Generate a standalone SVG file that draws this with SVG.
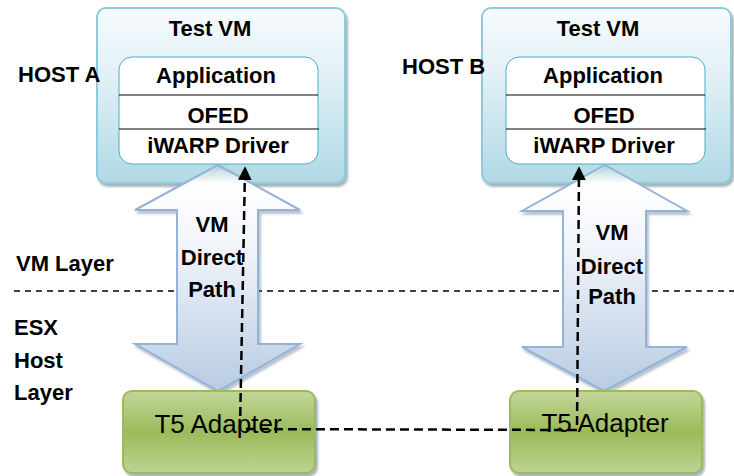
<svg xmlns="http://www.w3.org/2000/svg" width="734" height="476" viewBox="0 0 734 476">
<defs>
  <style>
    .lbl{font-family:"Liberation Sans",Arial,sans-serif;font-weight:bold;font-size:22px;fill:#000}
    .mid{text-anchor:middle}
    .ad{font-family:"Liberation Sans",Arial,sans-serif;font-size:26px;fill:#000;text-anchor:middle}
    .vmbox{fill:url(#vmGrad);stroke:#8ccbdc;stroke-width:2;filter:url(#sh)}
    .inner{fill:#fff;stroke:#4bacc6;stroke-width:1}
    .sep{stroke:#000;stroke-width:1}
    .barrow{stroke:#95b3d7;stroke-width:2;filter:url(#sh2)}
    .adapter{fill:url(#grnGrad);stroke:#9bbb59;stroke-width:2;filter:url(#sh)}
    .layer{fill:none;stroke:#000;stroke-width:1.5;stroke-dasharray:6 5}
    .path{fill:none;stroke:#000;stroke-width:2.5;stroke-dasharray:9 5}
  </style>
  <linearGradient id="vmGrad" x1="0" y1="0" x2="0" y2="1">
    <stop offset="0" stop-color="#f6fbfd"/>
    <stop offset="0.4" stop-color="#e0f0f6"/>
    <stop offset="1" stop-color="#b0d9e5"/>
  </linearGradient>
  <linearGradient id="arrGradA" gradientUnits="userSpaceOnUse" x1="0" y1="165" x2="0" y2="392">
    <stop offset="0" stop-color="#ffffff" stop-opacity="0"/>
    <stop offset="0.08" stop-color="#ffffff" stop-opacity="1"/>
    <stop offset="0.35" stop-color="#f2f5fa"/>
    <stop offset="1" stop-color="#b7cbe3"/>
  </linearGradient>
  <linearGradient id="grnGrad" x1="0" y1="0" x2="0" y2="1">
    <stop offset="0" stop-color="#c2d69a"/>
    <stop offset="0.5" stop-color="#9bbb59"/>
    <stop offset="1" stop-color="#bdd394"/>
  </linearGradient>
  <filter id="sh" x="-10%" y="-10%" width="125%" height="125%">
    <feDropShadow dx="2" dy="3" stdDeviation="1" flood-color="#3a5a66" flood-opacity="0.45"/>
  </filter>
  <filter id="sh2" x="-10%" y="-10%" width="125%" height="125%">
    <feDropShadow dx="2" dy="3" stdDeviation="1" flood-color="#4f6a8a" flood-opacity="0.4"/>
  </filter>
  <marker id="ah" viewBox="0 0 10 10" refX="8" refY="5" markerWidth="5.5" markerHeight="5.5" orient="auto-start-reverse" markerUnits="strokeWidth">
    <path d="M0,0 L10,5 L0,10 Z" fill="#000"/>
  </marker>
</defs>

<!-- layer separator -->
<g id="layer-line">
  <line class="layer" x1="14" y1="291" x2="734" y2="291"/>
</g>

<!-- Host A VM -->
<g id="vm-host-a">
  <rect class="vmbox" x="97" y="8" width="248" height="175" rx="9"/>
  <text class="lbl mid" x="210" y="36">Test VM</text>
  <rect class="inner" x="119" y="57" width="199" height="107" rx="13"/>
  <line class="sep" x1="119" y1="95" x2="318" y2="95"/>
  <line class="sep" x1="119" y1="129" x2="319" y2="129"/>
  <text class="lbl mid" x="216" y="83">Application</text>
  <text class="lbl mid" x="218" y="123">OFED</text>
  <text class="lbl mid" x="218" y="153">iWARP Driver</text>
</g>

<!-- Host B VM -->
<g id="vm-host-b">
  <rect class="vmbox" x="482" y="8" width="249" height="175" rx="9"/>
  <text class="lbl mid" x="598" y="36">Test VM</text>
  <rect class="inner" x="506" y="57" width="199" height="107" rx="13"/>
  <line class="sep" x1="506" y1="95" x2="705" y2="95"/>
  <line class="sep" x1="506" y1="129" x2="706" y2="129"/>
  <text class="lbl mid" x="603" y="83">Application</text>
  <text class="lbl mid" x="604" y="123">OFED</text>
  <text class="lbl mid" x="604" y="153">iWARP Driver</text>
</g>

<!-- side labels -->
<g id="labels">
  <text class="lbl" x="18" y="82">HOST A</text>
  <text class="lbl" x="402" y="74">HOST B</text>
  <text class="lbl" x="16" y="271">VM Layer</text>
  <text class="lbl" x="14" y="335">ESX</text>
  <text class="lbl" x="14" y="368">Host</text>
  <text class="lbl" x="14" y="400">Layer</text>
</g>

<!-- VM Direct Path block arrows -->
<g id="direct-paths">
  <g id="direct-path-a">
    <path class="barrow" fill="url(#arrGradA)" d="M218,165 L300,210 L258,210 L258,344 L300,344 L218,391 L135,344 L177,344 L177,210 L135,210 Z"/>
    <text class="lbl mid" x="212" y="232">VM</text>
    <text class="lbl mid" x="212" y="265">Direct</text>
    <text class="lbl mid" x="212" y="297">Path</text>
  </g>
  <g id="direct-path-b">
    <path class="barrow" fill="url(#arrGradA)" d="M605,165 L687,211 L646,211 L646,347 L687,347 L604,391 L522,347 L563,347 L563,211 L522,211 Z"/>
    <text class="lbl mid" x="612" y="240">VM</text>
    <text class="lbl mid" x="612" y="274">Direct</text>
    <text class="lbl mid" x="612" y="304">Path</text>
  </g>
</g>

<!-- T5 adapters -->
<g id="adapter-a">
  <rect class="adapter" x="123" y="391" width="192" height="82" rx="9"/>
  <text class="ad" x="218" y="433">T5 Adapter</text>
</g>
<g id="adapter-b">
  <rect class="adapter" x="510" y="391" width="192" height="82" rx="9"/>
  <text class="ad" x="605" y="432">T5 Adapter</text>
</g>

<!-- data path connector -->
<g id="connectors">
  <path class="path" d="M245,169 L240,429 L577,430 L579,169" marker-start="url(#ah)" marker-end="url(#ah)"/>
</g>
</svg>
